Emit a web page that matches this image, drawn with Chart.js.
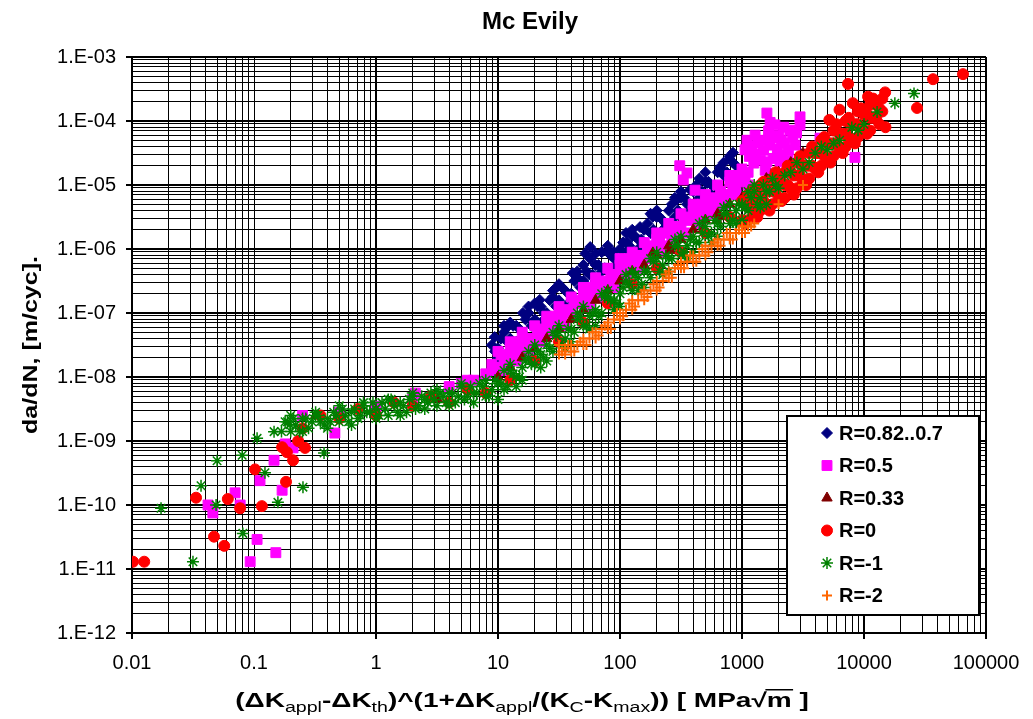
<!DOCTYPE html>
<html>
<head>
<meta charset="utf-8">
<title>Mc Evily</title>
<script src="https://cdn.jsdelivr.net/npm/chart.js"></script>
<style>
    body {
        margin: 0;
        background-color: #ffffff;
    }
    canvas {
        display: block;
    }
</style>
</head>
<body>
<canvas id="crackChart" width="1033" height="719"></canvas>
<script>
// series labels, in Excel order (later series are drawn on top)
const seriesLabels = ['R=0.82..0.7', 'R=0.5', 'R=0.33', 'R=0', 'R=-1', 'R=-2'];

// axis range and tick labels
const xRange = [0.01, 100000];
const yRange = [1e-12, 1e-3];
const xTickLabels = ['0.01', '0.1', '1', '10', '100', '1000', '10000', '100000'];
const yTickLabels = ['1.E-12', '1.E-11', '1.E-10', '1.E-09', '1.E-08', '1.E-07', '1.E-06', '1.E-05', '1.E-04', '1.E-03'];

// data: [x, da/dN]
const r082 = [
    [8.9, 3.16e-8], [10, 2.82e-8], [11.2, 5.01e-8], [12.6, 3.98e-8], [14.1, 6.31e-8], [15.8, 5.01e-8],
    [17.8, 1.0e-7], [20, 7.94e-8], [22.4, 1.26e-7], [25.1, 1.0e-7], [28.2, 1.78e-7], [31.6, 1.58e-7],
    [35.5, 2.24e-7], [39.8, 2.0e-7], [44.7, 3.55e-7], [50.1, 3.16e-7], [56.2, 3.98e-7], [63.1, 5.62e-7],
    [70.8, 4.47e-7], [79.4, 8.91e-7], [89.1, 7.08e-7], [100, 1.0e-6], [112, 8.91e-7], [126, 1.58e-6],
    [141, 1.41e-6], [158, 2.0e-6], [178, 1.78e-6], [200, 3.16e-6], [224, 2.82e-6], [251, 3.98e-6],
    [282, 3.16e-6], [316, 6.31e-6], [355, 5.01e-6], [398, 7.94e-6], [447, 6.31e-6], [501, 1.12e-5],
    [562, 1.0e-5], [631, 1.58e-5], [708, 1.41e-5], [794, 2.51e-5], [891, 2.0e-5],
    [9.44, 2.51e-8], [10.6, 3.98e-8], [11.9, 3.55e-8], [13.3, 6.31e-8], [15.0, 5.62e-8], [16.8, 7.94e-8],
    [18.8, 6.31e-8], [21.1, 1.26e-7], [23.7, 1.0e-7], [26.6, 1.58e-7], [29.9, 1.26e-7], [33.5, 2.51e-7],
    [37.6, 2.0e-7], [42.2, 3.16e-7], [47.3, 2.51e-7], [53.1, 4.47e-7], [59.6, 3.98e-7], [66.8, 5.62e-7],
    [75.0, 5.01e-7], [84.1, 7.94e-7], [94.4, 7.08e-7], [106, 1.26e-6], [119, 1.12e-6], [133, 1.58e-6],
    [150, 1.41e-6], [168, 2.51e-6], [188, 2.0e-6], [211, 3.16e-6], [237, 2.51e-6], [266, 5.01e-6],
    [299, 3.98e-6], [335, 6.31e-6], [376, 5.01e-6], [422, 1.0e-5], [473, 7.94e-6], [531, 1.12e-5],
    [596, 1.0e-5], [668, 1.78e-5], [750, 1.58e-5], [841, 2.24e-5],
    [10, 2.0e-8], [12.6, 7.08e-8], [15.8, 3.98e-8], [20, 1.41e-7], [25.1, 7.94e-8], [31.6, 2.82e-7],
    [39.8, 1.58e-7], [50.1, 5.62e-7], [63.1, 3.16e-7], [79.4, 1.12e-6], [100, 5.62e-7], [126, 2.0e-6],
    [158, 1.12e-6], [200, 3.98e-6], [251, 2.24e-6], [316, 7.94e-6], [398, 4.47e-6], [501, 1.58e-5],
    [631, 8.91e-6], [794, 2.82e-5],
    [11.2, 6.31e-8], [14.1, 3.55e-8], [17.8, 1.26e-7], [22.4, 7.08e-8], [28.2, 2.24e-7], [35.5, 1.26e-7],
    [44.7, 4.47e-7], [56.2, 2.51e-7], [70.8, 8.91e-7], [89.1, 5.01e-7], [112, 1.78e-6], [141, 1.0e-6],
    [178, 3.55e-6], [224, 2.0e-6], [282, 6.31e-6], [355, 3.55e-6], [447, 1.26e-5], [562, 7.08e-6],
    [708, 2.24e-5],
    [57, 1.07e-6], [52, 8.5e-7], [63, 8.5e-7], [57, 7.0e-7], [9.4, 4.2e-8], [11.9, 6.0e-8], [16, 1.0e-7],
    [22, 1.6e-7], [30.5, 2.55e-7], [41, 4.2e-7], [88, 9.0e-7], [114, 1.28e-6], [146, 2.2e-6], [186, 3.2e-6],
    [293, 5.9e-6], [375, 8.4e-6], [517, 1.07e-5], [661, 1.9e-5], [844, 3.2e-5], [1600, 1.7e-5], [2340, 2.0e-5]
];

const r05 = [
    [8.91, 1.58e-8], [10, 1.41e-8], [11.2, 2.0e-8], [12.6, 2.82e-8], [14.1, 2.24e-8], [15.8, 3.16e-8],
    [17.8, 3.98e-8], [20, 3.55e-8], [22.4, 5.01e-8], [25.1, 7.08e-8], [28.2, 6.31e-8], [31.6, 8.91e-8],
    [35.5, 1.12e-7], [39.8, 1.0e-7], [44.7, 1.41e-7], [50.1, 2.0e-7], [56.2, 1.58e-7], [63.1, 2.24e-7],
    [70.8, 3.16e-7], [79.4, 2.82e-7], [89.1, 3.98e-7], [100, 5.62e-7], [112, 4.47e-7], [126, 6.31e-7],
    [141, 7.94e-7], [158, 7.08e-7], [178, 1.0e-6], [200, 1.41e-6], [224, 1.12e-6], [251, 1.78e-6],
    [282, 2.24e-6], [316, 2.0e-6], [355, 2.82e-6], [398, 3.98e-6], [447, 3.16e-6], [501, 4.47e-6],
    [562, 6.31e-6], [631, 5.01e-6], [708, 7.08e-6], [794, 1.12e-5], [891, 8.91e-6], [1000, 1.26e-5],
    [1122, 1.58e-5],
    [9.44, 1.26e-8], [10.6, 2.24e-8], [11.9, 1.78e-8], [13.3, 2.51e-8], [15.0, 3.55e-8], [16.8, 2.82e-8],
    [18.8, 3.98e-8], [21.1, 5.62e-8], [23.7, 5.01e-8], [26.6, 6.31e-8], [29.9, 8.91e-8], [33.5, 7.94e-8],
    [37.6, 1.12e-7], [42.2, 1.58e-7], [47.3, 1.41e-7], [53.1, 1.78e-7], [59.6, 2.51e-7], [66.8, 2.0e-7],
    [75.0, 2.82e-7], [84.1, 3.98e-7], [94.4, 3.55e-7], [106, 5.01e-7], [119, 7.08e-7], [133, 5.62e-7],
    [150, 7.94e-7], [168, 1.12e-6], [188, 1.0e-6], [211, 1.26e-6], [237, 1.78e-6], [266, 1.58e-6],
    [299, 2.24e-6], [335, 3.16e-6], [376, 2.82e-6], [422, 3.55e-6], [473, 5.01e-6], [531, 3.98e-6],
    [596, 5.62e-6], [668, 7.94e-6], [750, 7.08e-6], [841, 1.0e-5], [944, 1.41e-5], [1059, 1.12e-5],
    [10, 2.51e-8], [11.2, 1.26e-8], [12.6, 3.55e-8], [14.1, 1.78e-8], [15.8, 5.01e-8], [17.8, 2.51e-8],
    [20, 6.31e-8], [22.4, 3.55e-8], [25.1, 8.91e-8], [28.2, 5.01e-8], [31.6, 1.26e-7], [35.5, 6.31e-8],
    [39.8, 1.78e-7], [44.7, 8.91e-8], [50.1, 2.51e-7], [56.2, 1.26e-7], [63.1, 3.55e-7], [70.8, 1.78e-7],
    [79.4, 5.01e-7], [89.1, 2.51e-7], [100, 7.08e-7], [112, 3.55e-7], [126, 8.91e-7], [141, 5.01e-7],
    [158, 1.26e-6], [178, 7.08e-7], [200, 1.78e-6], [224, 8.91e-7], [251, 2.51e-6], [282, 1.26e-6],
    [316, 3.55e-6], [355, 1.78e-6], [398, 5.01e-6], [447, 2.51e-6], [501, 7.08e-6], [562, 3.55e-6],
    [631, 1.0e-5], [708, 5.01e-6], [794, 1.41e-5], [891, 7.08e-6], [1000, 1.78e-5], [1122, 1.0e-5],
    [1060, 3.55e-5], [1280, 6.0e-5], [1410, 2.45e-5], [1700, 4.2e-5], [1860, 8.7e-5], [2130, 2.95e-5],
    [2470, 7.2e-5], [2720, 4.2e-5], [2990, 8.7e-5], [2380, 2.45e-5], [1550, 1.7e-5], [1100, 5.0e-5],
    [1200, 4.0e-5], [1450, 5.0e-5], [1300, 3.0e-5], [2000, 6.0e-5], [2250, 4.5e-5], [1800, 2.6e-5],
    [2600, 5.6e-5], [1650, 7.0e-5], [2200, 8.0e-5],
    [1150, 2.8e-5], [1350, 4.5e-5], [1500, 3.5e-5], [1750, 5.5e-5], [1950, 3.6e-5], [2100, 5.0e-5],
    [2400, 3.5e-5], [2800, 6.5e-5], [1250, 2.2e-5], [1600, 2.3e-5], [2050, 2.3e-5], [1700, 9.5e-5],
    [1600, 1.33e-4], [2990, 1.16e-4], [4360, 5.4e-5], [8430, 2.7e-5],
    [354, 1.54e-5], [309, 2.0e-5], [412, 8.3e-6], [330, 1.2e-5],
    [3.98, 7.08e-9], [5.01, 7.94e-9], [6.31, 8.91e-9], [7.94, 1.12e-8], [5.6, 8.9e-9], [2.1, 5.6e-9],
    [0.46, 1.33e-9], [0.25, 2.5e-9], [0.5, 2.8e-9], [1.0, 3.5e-9], [2.0, 4.5e-9],
    [0.070, 1.55e-10], [0.042, 1.0e-10], [0.046, 7.5e-11], [0.077, 1.0e-10], [0.106, 2.9e-11],
    [0.093, 1.3e-11], [0.151, 1.8e-11], [0.17, 1.7e-10], [0.112, 2.4e-10], [0.146, 5.0e-10],
    [0.209, 7.8e-10], [0.18, 9.0e-10]
];

const r033 = [
    [10, 1.0e-8], [12.6, 1.41e-8], [15.8, 2.0e-8], [20, 2.82e-8], [25.1, 3.98e-8], [31.6, 5.62e-8],
    [39.8, 7.94e-8], [50.1, 1.12e-7], [63.1, 1.58e-7], [79.4, 2.24e-7], [100, 3.16e-7], [126, 4.47e-7],
    [158, 5.62e-7], [200, 7.94e-7], [251, 1.12e-6], [316, 1.41e-6], [398, 2.0e-6], [501, 2.82e-6],
    [631, 3.55e-6], [794, 5.01e-6], [1000, 6.31e-6], [1259, 8.91e-6], [1585, 1.26e-5], [1995, 1.58e-5],
    [2512, 2.24e-5], [3162, 3.16e-5], [3400, 1.07e-5],
    [479, 2.0e-6], [661, 3.2e-6], [1160, 6.5e-6], [257, 9.5e-7], [186, 8.7e-7], [624, 2.8e-6],
    [0.32, 2.5e-9], [1.0, 3.0e-9], [3.2, 4.5e-9]
];

const r0 = [
    [0.0102, 1.3e-11], [0.0126, 1.3e-11], [0.0335, 1.3e-10], [0.047, 3.2e-11], [0.057, 2.3e-11],
    [0.061, 1.24e-10], [0.077, 8.9e-11], [0.116, 9.6e-11], [0.183, 2.3e-10], [0.102, 3.6e-10],
    [0.209, 5.0e-10], [0.186, 6.7e-10], [0.262, 7.8e-10], [0.23, 1.0e-9], [0.17, 8.0e-10],
    [0.25, 1.58e-9], [0.35, 2.51e-9], [0.5, 2.24e-9], [0.71, 3.16e-9], [1.0, 2.51e-9], [1.41, 3.98e-9],
    [2.0, 3.55e-9], [2.82, 5.01e-9], [3.98, 3.98e-9], [5.62, 6.31e-9], [7.94, 5.62e-9],
    [12.6, 8.91e-9], [20, 1.78e-8], [31.6, 3.55e-8], [50.1, 7.08e-8], [79.4, 1.41e-7], [126, 2.82e-7],
    [200, 5.01e-7], [316, 8.91e-7], [501, 1.78e-6], [794, 3.16e-6],
    [1000, 5.62e-6], [1000, 2.82e-6], [1122, 7.08e-6], [1122, 4.47e-6], [1122, 2.82e-6], [1259, 6.31e-6],
    [1259, 3.55e-6], [1413, 1.0e-5], [1413, 6.31e-6], [1413, 3.98e-6], [1585, 8.91e-6], [1585, 5.01e-6],
    [1778, 1.26e-5], [1778, 7.94e-6], [1778, 5.01e-6], [1995, 1.12e-5], [1995, 6.31e-6], [2239, 1.58e-5],
    [2239, 1.0e-5], [2239, 6.31e-6], [2512, 1.58e-5], [2512, 8.91e-6], [2818, 2.24e-5], [2818, 1.41e-5],
    [2818, 8.91e-6], [3162, 2.0e-5], [3162, 1.12e-5], [3548, 3.16e-5], [3548, 2.0e-5], [3548, 1.26e-5],
    [3981, 3.16e-5], [3981, 1.78e-5], [4467, 5.01e-5], [4467, 3.16e-5], [4467, 2.0e-5], [5012, 4.47e-5],
    [5012, 2.51e-5], [5623, 7.08e-5], [5623, 4.47e-5], [5623, 2.82e-5], [6310, 6.31e-5], [6310, 3.55e-5],
    [7079, 1.0e-4], [7079, 6.31e-5], [7079, 3.98e-5], [7943, 8.91e-5], [7943, 5.01e-5], [8913, 1.41e-4],
    [8913, 8.91e-5], [8913, 5.62e-5], [10000, 1.26e-4], [10000, 7.08e-5], [11220, 1.78e-4], [11220, 1.12e-4],
    [11220, 7.08e-5], [12590, 2.0e-4], [12590, 1.12e-4], [14130, 2.24e-4], [14130, 1.41e-4],
    [1059, 5.01e-6], [1059, 2.51e-6], [1189, 7.94e-6], [1189, 4.47e-6], [1334, 6.31e-6], [1334, 3.16e-6],
    [1496, 1.12e-5], [1496, 5.62e-6], [1679, 7.94e-6], [1679, 3.98e-6], [1884, 1.58e-5], [1884, 7.94e-6],
    [2113, 1.12e-5], [2113, 5.62e-6], [2371, 2.0e-5], [2371, 1.0e-5], [2661, 1.41e-5], [2661, 7.08e-6],
    [2985, 2.82e-5], [2985, 1.41e-5], [3350, 2.0e-5], [3350, 1.0e-5], [3758, 3.98e-5], [3758, 2.0e-5],
    [4217, 3.16e-5], [4217, 1.58e-5], [4732, 5.62e-5], [4732, 2.82e-5], [5309, 4.47e-5], [5309, 2.24e-5],
    [5957, 8.91e-5], [5957, 4.47e-5], [6683, 6.31e-5], [6683, 3.16e-5], [7499, 1.12e-4], [7499, 5.62e-5],
    [8414, 8.91e-5], [8414, 4.47e-5], [9441, 1.58e-4], [9441, 7.94e-5], [10590, 1.26e-4], [10590, 6.31e-5],
    [11890, 2.24e-4], [11890, 1.12e-4], [13340, 1.58e-4], [13340, 8.91e-5],
    [8100, 1.9e-4], [6300, 1.5e-4], [5200, 1.04e-4], [10800, 2.4e-4], [14900, 2.8e-4], [15000, 8.0e-5],
    [7400, 3.8e-4], [36800, 4.5e-4], [64800, 5.4e-4], [27200, 1.6e-4]
];

const rm1 = [
    [0.18, 2.0e-9], [0.2, 1.41e-9], [0.22, 1.78e-9], [0.25, 2.24e-9], [0.28, 1.58e-9], [0.32, 2.51e-9],
    [0.35, 2.0e-9], [0.4, 2.24e-9], [0.45, 2.82e-9], [0.5, 2.0e-9], [0.56, 2.51e-9], [0.63, 2.82e-9],
    [0.71, 2.24e-9], [0.79, 3.55e-9], [0.89, 2.82e-9], [1.0, 3.16e-9], [1.12, 3.98e-9], [1.26, 2.51e-9],
    [1.41, 3.55e-9], [1.58, 3.98e-9], [1.78, 2.82e-9], [2.0, 5.01e-9], [2.24, 3.55e-9], [2.51, 4.47e-9],
    [2.82, 5.62e-9], [3.16, 3.55e-9], [3.55, 5.01e-9], [3.98, 5.62e-9], [4.47, 3.98e-9], [5.01, 7.08e-9],
    [5.62, 5.01e-9], [6.31, 5.62e-9], [7.08, 7.94e-9], [7.94, 5.01e-9], [8.91, 6.31e-9], [10, 7.94e-9],
    [11.2, 6.31e-9], [12.6, 1.26e-8], [14.1, 1.0e-8], [15.8, 1.41e-8], [17.8, 2.0e-8], [20, 1.58e-8],
    [22.4, 2.24e-8], [25.1, 3.16e-8], [28.2, 2.51e-8], [31.6, 5.01e-8], [35.5, 3.98e-8], [39.8, 5.62e-8],
    [44.7, 7.94e-8], [50.1, 6.31e-8], [56.2, 8.91e-8], [63.1, 1.12e-7], [70.8, 1.0e-7], [79.4, 1.78e-7],
    [89.1, 1.58e-7], [100, 2.0e-7], [112, 3.16e-7], [126, 2.24e-7], [141, 3.55e-7], [158, 4.47e-7],
    [178, 3.55e-7], [200, 7.08e-7], [224, 5.62e-7], [251, 7.08e-7], [282, 1.12e-6], [316, 7.94e-7],
    [355, 1.12e-6], [398, 1.58e-6], [447, 1.26e-6], [501, 2.24e-6], [562, 1.78e-6], [631, 2.51e-6],
    [708, 3.55e-6], [794, 2.51e-6], [891, 3.98e-6], [1000, 5.01e-6], [1122, 3.98e-6], [1259, 7.94e-6],
    [1413, 6.31e-6], [1585, 7.94e-6], [1778, 1.26e-5], [1995, 8.91e-6], [2512, 1.58e-5], [3162, 1.78e-5],
    [3981, 3.16e-5], [5012, 3.55e-5], [6310, 5.01e-5], [7943, 7.94e-5], [10000, 8.91e-5],
    [0.168, 1.41e-9], [0.188, 2.0e-9], [0.211, 2.24e-9], [0.237, 1.41e-9], [0.266, 2.24e-9], [0.299, 2.0e-9],
    [0.335, 2.51e-9], [0.376, 1.78e-9], [0.422, 2.0e-9], [0.473, 2.51e-9], [0.531, 3.16e-9], [0.596, 2.0e-9],
    [0.668, 3.16e-9], [0.750, 2.51e-9], [0.841, 2.82e-9], [0.944, 3.98e-9], [1.06, 2.51e-9], [1.19, 3.16e-9],
    [1.33, 4.47e-9], [1.50, 2.82e-9], [1.68, 3.55e-9], [1.88, 4.47e-9], [2.11, 3.16e-9], [2.37, 5.01e-9],
    [2.66, 3.98e-9], [2.99, 4.47e-9], [3.35, 5.62e-9], [3.76, 3.98e-9], [4.22, 5.62e-9], [4.73, 5.01e-9],
    [5.31, 4.47e-9], [5.96, 7.08e-9], [6.68, 5.62e-9], [7.50, 7.08e-9], [8.41, 5.01e-9], [9.44, 8.91e-9],
    [10.6, 7.94e-9], [11.9, 7.08e-9], [13.3, 1.12e-8], [15.0, 1.0e-8], [16.8, 1.78e-8], [18.8, 1.58e-8],
    [21.1, 2.51e-8], [23.7, 2.0e-8], [26.6, 2.82e-8], [29.9, 4.47e-8], [33.5, 3.16e-8], [37.6, 5.62e-8],
    [42.2, 5.01e-8], [47.3, 8.91e-8], [53.1, 6.31e-8], [59.6, 1.0e-7], [66.8, 8.91e-8], [75.0, 1.78e-7],
    [84.1, 1.58e-7], [94.4, 1.41e-7], [106, 2.51e-7], [119, 2.82e-7], [133, 3.98e-7], [150, 2.82e-7],
    [168, 4.47e-7], [188, 6.31e-7], [211, 4.47e-7], [237, 7.94e-7], [266, 7.08e-7], [299, 1.12e-6],
    [335, 8.91e-7], [376, 1.41e-6], [422, 1.26e-6], [473, 1.78e-6], [531, 1.58e-6], [596, 2.82e-6],
    [668, 2.24e-6], [750, 3.55e-6], [841, 2.82e-6], [944, 5.01e-6], [1059, 4.47e-6], [1189, 6.31e-6],
    [1334, 5.01e-6], [1496, 1.0e-5], [1679, 7.94e-6], [1884, 1.0e-5], [2239, 1.41e-5], [2818, 2.24e-5],
    [3548, 2.24e-5], [4467, 3.98e-5], [5623, 4.47e-5],
    [10, 4.47e-9], [12.6, 1.58e-8], [15.8, 8.91e-9], [20, 3.16e-8], [25.1, 1.78e-8], [31.6, 6.31e-8],
    [39.8, 3.55e-8], [50.1, 1.26e-7], [63.1, 6.31e-8], [79.4, 2.24e-7], [100, 1.26e-7], [126, 4.47e-7],
    [158, 2.51e-7], [200, 8.91e-7], [251, 4.47e-7], [316, 1.58e-6], [398, 8.91e-7], [501, 2.82e-6],
    [631, 1.58e-6], [794, 5.01e-6], [1000, 2.82e-6], [1259, 1.0e-5], [1585, 5.01e-6],
    [11.2, 1.26e-8], [14.1, 7.08e-9], [17.8, 2.51e-8], [22.4, 1.41e-8], [28.2, 5.01e-8], [35.5, 2.82e-8],
    [44.7, 1.0e-7], [56.2, 5.62e-8], [70.8, 2.0e-7], [89.1, 1.12e-7], [112, 3.98e-7], [141, 2.24e-7],
    [178, 7.08e-7], [224, 3.98e-7], [282, 1.41e-6], [355, 7.08e-7], [447, 2.51e-6], [562, 1.26e-6],
    [708, 4.47e-6], [891, 2.51e-6], [1122, 7.94e-6], [1413, 4.47e-6],
    [0.2, 2.51e-9], [0.25, 1.41e-9], [0.32, 2.82e-9], [0.4, 1.58e-9], [0.5, 3.55e-9], [0.63, 1.78e-9],
    [0.79, 3.98e-9], [1.0, 2.24e-9], [1.26, 4.47e-9], [1.58, 2.51e-9], [2.0, 5.62e-9], [2.51, 3.16e-9],
    [3.16, 6.31e-9], [3.98, 3.55e-9], [5.01, 7.94e-9], [6.31, 3.98e-9], [7.94, 8.91e-9],
    [12800, 1.38e-4], [17900, 1.9e-4], [25700, 2.7e-4], [8930, 7.2e-5],
    [0.0173, 8.9e-11], [0.0316, 1.3e-11], [0.0368, 2.0e-10], [0.0489, 1.0e-10], [0.0498, 4.9e-10],
    [0.08, 6.0e-10], [0.081, 3.6e-11], [0.157, 1.1e-10], [0.252, 1.9e-10], [0.375, 6.5e-10],
    [0.106, 1.1e-9], [0.146, 1.4e-9], [0.197, 1.8e-9], [0.123, 3.2e-10]
];

const rm2 = [
    [31.6, 3.16e-8], [31.6, 2.24e-8], [35.5, 2.82e-8], [35.5, 2.24e-8], [39.8, 3.16e-8], [39.8, 2.51e-8],
    [44.7, 3.16e-8], [50.1, 3.98e-8], [50.1, 3.16e-8], [56.2, 3.98e-8], [63.1, 5.01e-8], [63.1, 3.98e-8],
    [70.8, 5.62e-8], [79.4, 7.08e-8], [79.4, 5.62e-8], [89.1, 7.94e-8], [100, 1.0e-7], [100, 7.94e-8],
    [112, 1.12e-7], [126, 1.58e-7], [126, 1.12e-7], [141, 1.58e-7], [158, 2.24e-7], [158, 1.58e-7],
    [178, 2.24e-7], [200, 3.16e-7], [200, 2.24e-7], [224, 3.16e-7], [251, 4.47e-7], [251, 3.55e-7],
    [282, 5.01e-7], [316, 6.31e-7], [316, 5.01e-7], [355, 6.31e-7], [398, 7.94e-7], [398, 6.31e-7],
    [447, 7.94e-7], [501, 1.12e-6], [501, 7.94e-7], [562, 1.12e-6], [631, 1.41e-6], [631, 1.12e-6],
    [708, 1.41e-6], [794, 1.78e-6], [794, 1.41e-6], [891, 1.78e-6], [1000, 2.24e-6], [1000, 1.78e-6],
    [1122, 2.24e-6], [1259, 2.51e-6], [1995, 5.01e-6], [3162, 1.0e-5],
    [33.5, 2.51e-8], [37.6, 3.16e-8], [42.2, 2.51e-8], [47.3, 3.55e-8], [53.1, 3.16e-8], [59.6, 5.01e-8],
    [66.8, 4.47e-8], [75.0, 6.31e-8], [84.1, 5.62e-8], [94.4, 1.0e-7], [106, 8.91e-8], [119, 1.41e-7],
    [133, 1.26e-7], [150, 2.0e-7], [168, 1.78e-7], [188, 2.82e-7], [211, 2.51e-7], [237, 3.98e-7],
    [266, 3.55e-7], [299, 5.62e-7], [335, 5.01e-7], [376, 7.94e-7], [422, 6.31e-7], [473, 1.0e-6],
    [531, 8.91e-7], [596, 1.26e-6], [668, 1.12e-6], [750, 1.78e-6], [841, 1.41e-6], [944, 2.0e-6],
    [1059, 1.78e-6], [1189, 2.24e-6]
];

const seriesData = [r082, r05, r033, r0, rm1, rm2];

// marker look per series (Excel default markers)
const markerStyles = [
    { color: '#000080', shape: 'rectRot', radius: 5.5, width: 1 },
    { color: '#FF00FF', shape: 'rect', radius: 7, width: 1 },
    { color: '#800000', shape: 'triangle', radius: 6, width: 1 },
    { color: '#FF0000', shape: 'circle', radius: 5.5, width: 1 },
    { color: '#008000', shape: 'star', radius: 6, width: 1.5 },
    { color: '#FF6600', shape: 'cross', radius: 5, width: 2 }
];

const FONT = "'Liberation Sans', Arial, sans-serif";

// grid at 1..9 x 10^n on both log axes
function logGrid(lo, hi) {
    const out = [];
    for (let e = lo; e <= hi; e++) {
        for (let m = 1; m <= 9; m++) {
            if (e === hi && m > 1) break;
            out.push(m * Math.pow(10, e));
        }
    }
    return out;
}

function decadeIndex(v, lo) {
    const l = Math.log10(v);
    const r = Math.round(l);
    return Math.abs(l - r) < 1e-6 ? r - lo : -1;
}

const xGrid = logGrid(-2, 5);
const yGrid = logGrid(-12, -3);

const datasets = seriesData.map((pts, i) => ({
    label: seriesLabels[i],
    data: pts.map(p => ({ x: p[0], y: p[1] })),
    pointStyle: markerStyles[i].shape,
    pointRadius: markerStyles[i].radius,
    pointBorderWidth: markerStyles[i].width,
    backgroundColor: markerStyles[i].color,
    borderColor: markerStyles[i].color,
    order: seriesData.length - 1 - i
}));

// titles, x label with subscripts, and the boxed legend
const xTitleParts = [
    ['(\u0394K', 'b'], ['appl', 's'], ['-\u0394K', 'b'], ['th', 's'], [')^(1+\u0394K', 'b'], ['appl', 's'],
    ['/(K', 'b'], ['C', 's'], ['-K', 'b'], ['max', 's'], [')) [ MPa\u221A', 'b'], ['m', 'o'], [' ]', 'b']
];

const decorPlugin = {
    id: 'decor',
    afterDraw(chart) {
        const ctx = chart.ctx;
        const area = chart.chartArea;
        ctx.save();
        ctx.fillStyle = '#000';

        // chart title
        ctx.font = 'bold 24px ' + FONT;
        ctx.textAlign = 'center';
        ctx.textBaseline = 'middle';
        ctx.fillText('Mc Evily', 530, 22);

        // y title, stretched along its length like the original
        ctx.save();
        ctx.translate(31, (area.top + area.bottom) / 2);
        ctx.rotate(-Math.PI / 2);
        ctx.scale(1.25, 1);
        ctx.font = 'bold 20px ' + FONT;
        ctx.fillText('da/dN, [m/cyc].', 0, 0);
        ctx.restore();

        // x title, drawn piece by piece and stretched
        const bigFont = 'bold 20px ' + FONT;
        const subFont = '14px ' + FONT;
        const stretch = 1.4;
        let total = 0;
        xTitleParts.forEach(p => {
            ctx.font = p[1] === 's' ? subFont : bigFont;
            total += ctx.measureText(p[0]).width;
        });
        ctx.save();
        ctx.translate(522 - total * stretch / 2, 707);
        ctx.scale(stretch, 1);
        ctx.textAlign = 'left';
        ctx.textBaseline = 'alphabetic';
        let x = 0;
        xTitleParts.forEach(p => {
            ctx.font = p[1] === 's' ? subFont : bigFont;
            const w = ctx.measureText(p[0]).width;
            ctx.fillText(p[0], x, p[1] === 's' ? 5 : 0);
            if (p[1] === 'o') {
                ctx.fillRect(x - 1, -18, w + 2, 1.5);
            }
            x += w;
        });
        ctx.restore();

        // legend box
        const bx = area.right - 199, by = area.bottom - 217, bw = 192, bh = 199;
        ctx.fillStyle = '#fff';
        ctx.fillRect(bx, by, bw, bh);
        ctx.strokeStyle = '#000';
        ctx.lineWidth = 2;
        ctx.strokeRect(bx, by, bw, bh);
        ctx.font = 'bold 20px ' + FONT;
        ctx.textAlign = 'left';
        ctx.textBaseline = 'middle';
        seriesLabels.forEach((lab, i) => {
            const ly = by + 17 + i * 32.5;
            const st = markerStyles[i];
            ctx.fillStyle = st.color;
            ctx.strokeStyle = st.color;
            ctx.lineWidth = st.width;
            Chart.helpers.drawPoint(ctx, { pointStyle: st.shape, radius: st.radius, rotation: 0, borderWidth: st.width }, bx + 40, ly);
            ctx.fillStyle = '#000';
            ctx.fillText(lab, bx + 52, ly + 1);
        });
        ctx.restore();
    }
};

const axisGrid = {
    color: '#000',
    lineWidth: c => (c.tick && decadeIndex(c.tick.value, 0) !== -1 ? 2 : 1),
    drawTicks: true,
    tickLength: 6,
    tickWidth: 2,
    tickColor: c => (c.tick && decadeIndex(c.tick.value, 0) !== -1 ? '#000' : 'rgba(0,0,0,0)')
};

new Chart(document.getElementById('crackChart').getContext('2d'), {
    type: 'scatter',
    data: { datasets: datasets },
    options: {
        responsive: false,
        animation: false,
        devicePixelRatio: 1,
        layout: { padding: { top: 57, right: 47, bottom: 0, left: 0 } },
        plugins: {
            legend: { display: false },
            title: { display: false },
            tooltip: { enabled: false }
        },
        scales: {
            x: {
                type: 'logarithmic',
                min: xRange[0],
                max: xRange[1],
                afterBuildTicks: s => { s.ticks = xGrid.map(v => ({ value: v })); },
                afterFit: s => { s.height = 86; },
                ticks: {
                    autoSkip: false,
                    maxRotation: 0,
                    padding: 12,
                    color: '#000',
                    font: { family: FONT, size: 20 },
                    callback: v => {
                        const k = decadeIndex(v, -2);
                        return k >= 0 ? xTickLabels[k] : '';
                    }
                },
                grid: axisGrid,
                border: { color: '#000', width: 2 }
            },
            y: {
                type: 'logarithmic',
                min: yRange[0],
                max: yRange[1],
                afterBuildTicks: s => { s.ticks = yGrid.map(v => ({ value: v })); },
                afterFit: s => { s.width = 132; },
                ticks: {
                    autoSkip: false,
                    padding: 10,
                    color: '#000',
                    font: { family: FONT, size: 20 },
                    callback: v => {
                        const k = decadeIndex(v, -12);
                        return k >= 0 ? yTickLabels[k] : '';
                    }
                },
                grid: axisGrid,
                border: { color: '#000', width: 2 }
            }
        }
    },
    plugins: [decorPlugin]
});
</script>
</body>
</html>
